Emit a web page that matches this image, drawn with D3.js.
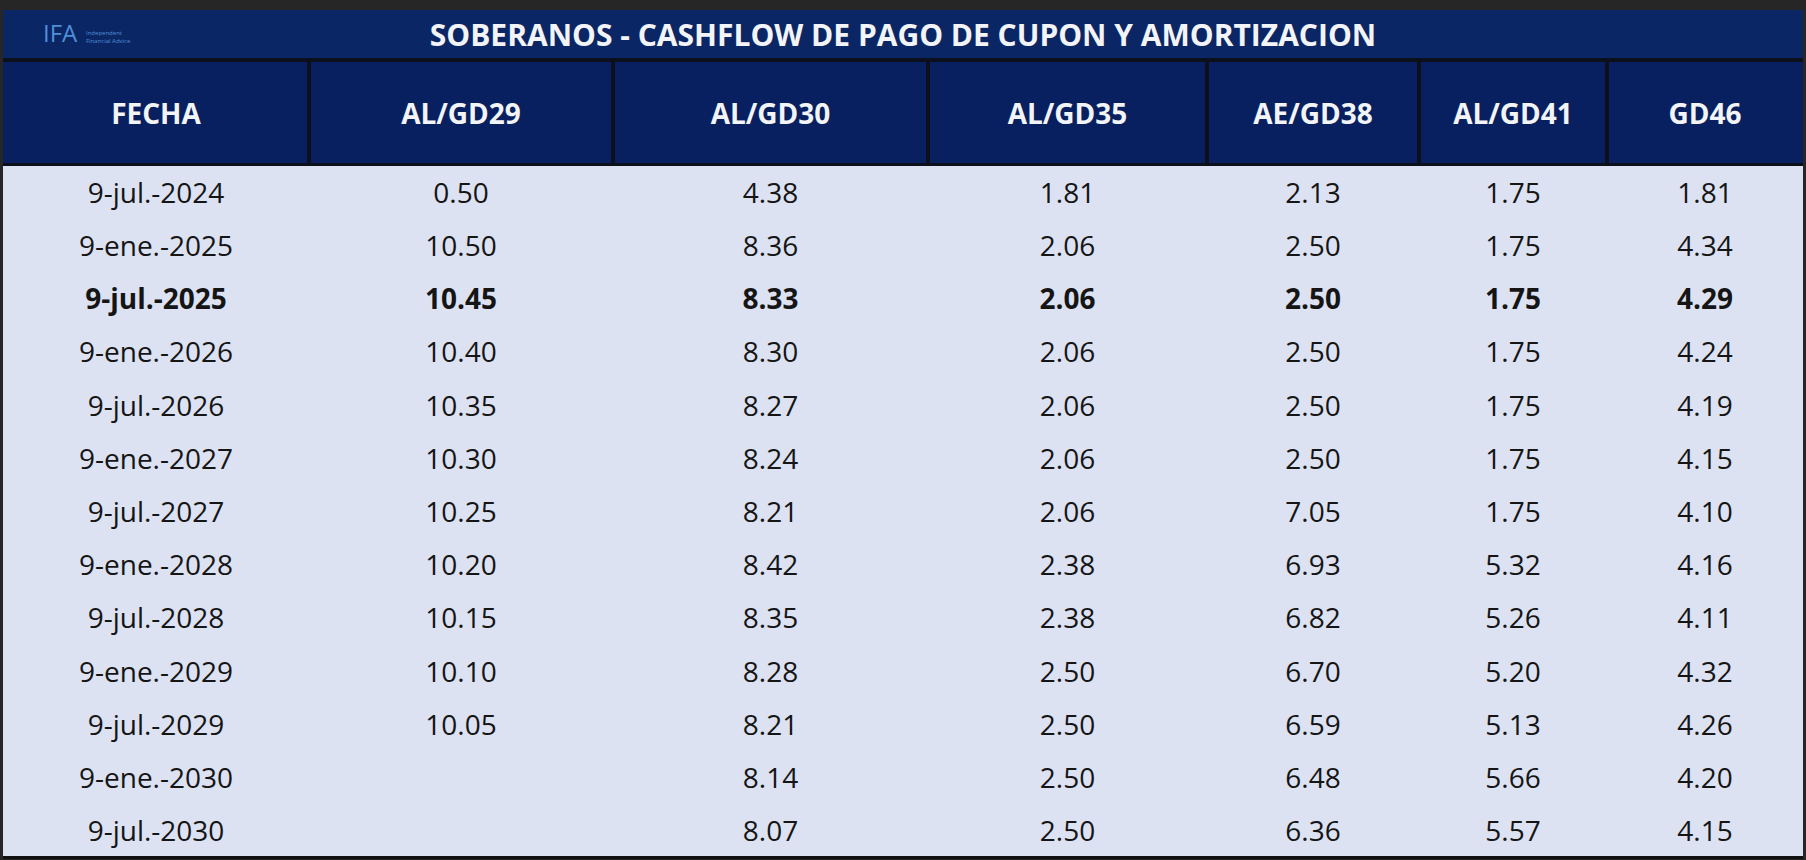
<!DOCTYPE html>
<html><head><meta charset="utf-8">
<script src="https://cdn.jsdelivr.net/npm/d3@7"></script>
<style>body{margin:0;background:#262626;overflow:hidden}</style>
</head><body>
<svg id="chart" width="1806" height="860"></svg>
<script>
// ===== DATA =====
const title = 'SOBERANOS - CASHFLOW DE PAGO DE CUPON Y AMORTIZACION';
const columns = ['FECHA', 'AL/GD29', 'AL/GD30', 'AL/GD35', 'AE/GD38', 'AL/GD41', 'GD46'];
const fechas = ['9-jul.-2024','9-ene.-2025','9-jul.-2025','9-ene.-2026','9-jul.-2026','9-ene.-2027',
  '9-jul.-2027','9-ene.-2028','9-jul.-2028','9-ene.-2029','9-jul.-2029','9-ene.-2030','9-jul.-2030'];
const gd29 = [0.50,10.50,10.45,10.40,10.35,10.30,10.25,10.20,10.15,10.10,10.05,null,null];
const gd30 = [4.38,8.36,8.33,8.30,8.27,8.24,8.21,8.42,8.35,8.28,8.21,8.14,8.07];
const gd35 = [1.81,2.06,2.06,2.06,2.06,2.06,2.06,2.38,2.38,2.50,2.50,2.50,2.50];
const gd38 = [2.13,2.50,2.50,2.50,2.50,2.50,7.05,6.93,6.82,6.70,6.59,6.48,6.36];
const gd41 = [1.75,1.75,1.75,1.75,1.75,1.75,1.75,5.32,5.26,5.20,5.13,5.66,5.57];
const gd46 = [1.81,4.34,4.29,4.24,4.19,4.15,4.10,4.16,4.11,4.32,4.26,4.20,4.15];
const boldRow = '9-jul.-2025';

// ===== LAYOUT =====
const svg = d3.select('#chart');
const colEdges = [3, 309, 613, 928, 1207, 1419, 1607, 1803];
const tableTop = 10, titleH = 48, headTop = 62, headBottom = 163, bottom = 857;
const font = '"Open Sans", "Noto Sans", sans-serif';
const series = [gd29, gd30, gd35, gd38, gd41, gd46];

const y = d3.scaleBand().domain(fechas).range([headBottom + 2, bottom]);

// body background
svg.append('rect').attr('x', colEdges[0]).attr('y', tableTop)
  .attr('width', colEdges[7] - colEdges[0]).attr('height', bottom - tableTop)
  .attr('fill', '#dce2f2');

// title bar
svg.append('rect').attr('x', colEdges[0]).attr('y', tableTop)
  .attr('width', colEdges[7] - colEdges[0]).attr('height', titleH).attr('fill', '#0b2664');
svg.append('text').attr('x', (colEdges[0] + colEdges[7]) / 2).attr('y', tableTop + titleH / 2)
  .attr('text-anchor', 'middle').attr('dominant-baseline', 'central')
  .attr('font-family', font).attr('font-weight', 700).attr('font-size', 30)
  .attr('fill', '#f2f4f8').text(title);
// logo
svg.append('text').attr('x', 43).attr('y', tableTop + 32)
  .attr('font-family', font).attr('font-size', 24).attr('fill', '#4f8fd8').text('IFA');
svg.append('text').attr('x', 86).attr('y', tableTop + 25)
  .attr('font-family', font).attr('font-size', 6).attr('fill', '#4f8fd8').text('Independent');
svg.append('text').attr('x', 86).attr('y', tableTop + 33)
  .attr('font-family', font).attr('font-size', 6).attr('fill', '#4f8fd8').text('Financial Advice');

// header band (dark gaps between cells)
svg.append('rect').attr('x', colEdges[0]).attr('y', tableTop + titleH)
  .attr('width', colEdges[7] - colEdges[0]).attr('height', headBottom + 3 - tableTop - titleH)
  .attr('fill', '#0c0f1c');
columns.forEach((c, i) => {
  const x0 = colEdges[i] + (i === 0 ? 0 : 2), x1 = colEdges[i + 1] - (i === 6 ? 0 : 2);
  svg.append('rect').attr('x', x0).attr('y', headTop).attr('width', x1 - x0)
    .attr('height', headBottom - headTop).attr('fill', '#082060');
  svg.append('text').attr('x', (colEdges[i] + colEdges[i + 1]) / 2).attr('y', (headTop + headBottom) / 2)
    .attr('text-anchor', 'middle').attr('dominant-baseline', 'central')
    .attr('font-family', font).attr('font-weight', 700).attr('font-size', 28)
    .attr('fill', '#f2f4f8').text(c);
});

// body rows
const rows = svg.append('g').selectAll('g').data(fechas).join('g')
  .attr('transform', d => `translate(0,${y(d) + y.bandwidth() / 2})`);
rows.each(function (f, r) {
  const g = d3.select(this);
  const cells = [f].concat(series.map(s => s[r] == null ? '' : d3.format('.2f')(s[r])));
  cells.forEach((t, i) => {
    g.append('text').attr('x', (colEdges[i] + colEdges[i + 1]) / 2).attr('y', 0)
      .attr('text-anchor', 'middle').attr('dominant-baseline', 'central')
      .attr('font-family', font).attr('font-size', 28)
      .attr('font-weight', f === boldRow ? 700 : 400)
      .attr('fill', '#151515').text(t);
  });
});

// bottom border
svg.append('rect').attr('x', colEdges[0]).attr('y', bottom - 1)
  .attr('width', colEdges[7] - colEdges[0]).attr('height', 3).attr('fill', '#111');
</script>
</body></html>
